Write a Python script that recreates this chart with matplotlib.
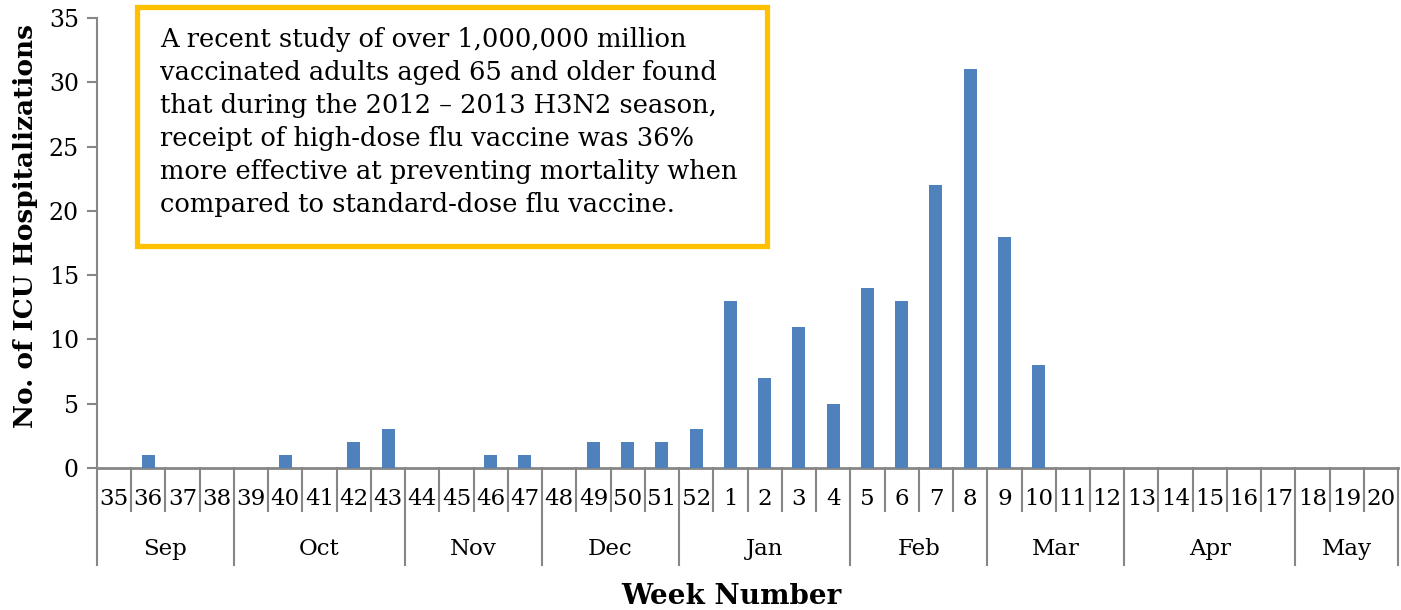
import matplotlib.pyplot as plt
from matplotlib.patches import Rectangle
import matplotlib.transforms as mtransforms

# weekly ICU hospitalizations, season weeks 35..52 then 1..20
weeks = [35, 36, 37, 38, 39, 40, 41, 42, 43, 44, 45, 46, 47, 48, 49, 50, 51, 52,
         1, 2, 3, 4, 5, 6, 7, 8, 9, 10, 11, 12, 13, 14, 15, 16, 17, 18, 19, 20]
icu = [0, 1, 0, 0, 0, 1, 0, 2, 3, 0, 0, 1, 1, 0, 2, 2, 2, 3,
       13, 7, 11, 5, 14, 13, 22, 31, 18, 8, 0, 0, 0, 0, 0, 0, 0, 0, 0, 0]
months = ['Sep', 'Oct', 'Nov', 'Dec', 'Jan', 'Feb', 'Mar', 'Apr', 'May']
weeks_per_month = [4, 5, 4, 4, 5, 4, 4, 5, 3]
yticks = [0, 5, 10, 15, 20, 25, 30, 35]

note = ("A recent study of over 1,000,000 million\n"
        "vaccinated adults aged 65 and older found\n"
        "that during the 2012 \u2013 2013 H3N2 season,\n"
        "receipt of high-dose flu vaccine was 36%\n"
        "more effective at preventing mortality when\n"
        "compared to standard-dose flu vaccine.")

plt.rcParams['font.family'] = ['DejaVu Serif']
gray = '#868686'

fig = plt.figure(figsize=(14.01, 6.10), dpi=100)
ax = fig.add_axes([0.0692, 0.2328, 0.9288, 0.7377])

x = list(range(len(weeks)))
ax.bar(x, icu, width=0.38, color='#4F81BD', zorder=3)

ax.set_xlim(-0.5, len(weeks) - 0.5)
ax.set_ylim(0, 35)
ax.set_yticks(yticks)
ax.tick_params(axis='y', direction='out', length=7, width=1.5, color=gray,
               labelsize=17, pad=6)
ax.set_xticks([])
for s in ['top', 'right']:
    ax.spines[s].set_visible(False)
ax.spines['left'].set_color(gray)
ax.spines['left'].set_linewidth(1.5)
ax.spines['bottom'].set_color(gray)
ax.spines['bottom'].set_linewidth(2)

trans = mtransforms.blended_transform_factory(ax.transData, ax.transAxes)
wk_depth = -0.096
mo_depth = -0.216

# week labels and separators
for i, w in enumerate(weeks):
    ax.text(i, -0.068, str(w), transform=trans, ha='center', va='center',
            fontsize=16.5)
month_edges = [0]
for n in weeks_per_month:
    month_edges.append(month_edges[-1] + n)
for i in range(len(weeks) + 1):
    depth = mo_depth if i in month_edges else wk_depth
    ax.plot([i - 0.5, i - 0.5], [0, depth], transform=trans, color=gray,
            lw=1.5, clip_on=False)

# month labels
for k, m in enumerate(months):
    mid = (month_edges[k] + month_edges[k + 1]) / 2 - 0.5
    ax.text(mid, -0.181, m, transform=trans, ha='center', va='center',
            fontsize=16.5)

ax.set_ylabel('No. of ICU Hospitalizations', fontsize=19, fontweight='bold')
ax.yaxis.set_label_coords(-0.045, 0.538)
fig.text(0.522, 0.0, 'Week Number', ha='center', va='bottom', fontsize=20,
         fontweight='bold')

# annotation box
fig.patches.append(Rectangle((0.0978, 0.596), 0.4497, 0.392,
                             transform=fig.transFigure, fill=False,
                             edgecolor='#FFC000', lw=3.8))
fig.text(0.114, 0.955, note, ha='left', va='top', fontsize=18.5,
         linespacing=1.4)

fig.savefig('out.png', dpi=100)
